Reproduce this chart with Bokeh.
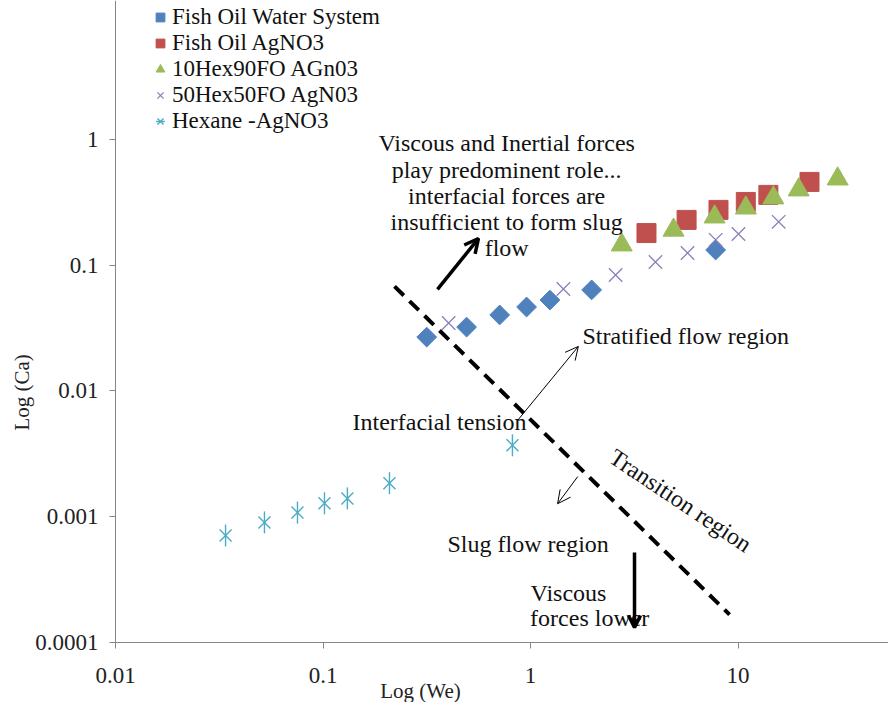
import math
from bokeh.plotting import figure
from bokeh.models import (Range1d, FixedTicker, CustomJSTickFormatter, Legend, LegendItem,
                          Label, Arrow, OpenHead)
from bokeh.core.properties import value
from bokeh.embed import file_html
from bokeh.resources import INLINE

# ---------------- data ----------------
fish_water_we = [0.316, 0.492, 0.71, 0.957, 1.24, 1.97, 7.8]
fish_water_ca = [0.0268, 0.0322, 0.0402, 0.0465, 0.0528, 0.0636, 0.132]

fish_ag_we = [3.62, 5.65, 8.05, 10.9, 14.0, 22.1]
fish_ag_ca = [0.180, 0.229, 0.275, 0.318, 0.362, 0.459]

hex10_we = [2.75, 4.89, 7.71, 10.9, 14.8, 19.6, 30.2]
hex10_ca = [0.145, 0.19, 0.242, 0.285, 0.343, 0.397, 0.485]

hex50_we = [0.403, 1.44, 2.57, 4.0, 5.71, 7.8, 10.05, 15.7]
hex50_ca = [0.0347, 0.0647, 0.0836, 0.106, 0.125, 0.159, 0.177, 0.221]

hexane_we = [0.0339, 0.0522, 0.0753, 0.1016, 0.131, 0.209, 0.818]
hexane_ca = [0.000711, 0.000902, 0.00108, 0.00128, 0.0014, 0.00185, 0.0037]

series_names = ["Fish Oil Water System", "Fish Oil AgNO3", "10Hex90FO AGn03",
                "50Hex50FO AgN03", "Hexane -AgNO3"]

x_ticks = [0.01, 0.1, 1, 10]
y_ticks = [0.0001, 0.001, 0.01, 0.1, 1]

# transition line end points
trans_we = [0.221, 9.10]
trans_ca = [0.0678, 0.000167]

FONT = "Liberation Serif"
X_MIN, X_MAX = 0.01, 53.1
Y_MIN, Y_MAX = 0.0001, 12.7

p = figure(width=888, height=702, x_axis_type="log", y_axis_type="log",
           x_range=Range1d(0.00279, X_MAX), y_range=Range1d(3.34e-5, Y_MAX),
           output_backend="svg", toolbar_location=None,
           min_border_left=0, min_border_right=0, min_border_top=0, min_border_bottom=0)
p.outline_line_color = None
p.xgrid.visible = False
p.ygrid.visible = False
p.background_fill_color = "white"
p.border_fill_color = "white"

xa = p.xaxis[0]
ya = p.yaxis[0]
xa.fixed_location = Y_MIN
ya.fixed_location = X_MIN
xa.bounds = (X_MIN, X_MAX)
ya.bounds = (Y_MIN, Y_MAX)
for ax, ticks in ((xa, x_ticks), (ya, y_ticks)):
    ax.ticker = FixedTicker(ticks=ticks, minor_ticks=[])
    ax.formatter = CustomJSTickFormatter(code="return tick.toString();")
    ax.axis_line_color = "#868686"
    ax.major_tick_line_color = "#868686"
    ax.major_tick_out = 6
    ax.major_tick_in = 0
    ax.minor_tick_out = 0
    ax.minor_tick_in = 0
    ax.major_label_text_font = FONT
    ax.major_label_text_font_size = "23px"
    ax.major_label_text_color = "#222222"
xa.major_label_standoff = 19
ya.major_label_standoff = 11

# transition dashed line
p.line(trans_we, trans_ca, line_color="black", line_width=4, line_dash="13 8")

# series
r1 = p.scatter(fish_water_we, fish_water_ca, marker="square", angle=math.pi / 4, size=14,
               fill_color="#4F81BD", line_color="#4F81BD")
r2 = p.scatter(fish_ag_we, fish_ag_ca, marker="square", size=19,
               fill_color="#C0504D", line_color="#C0504D")
r3 = p.scatter(hex10_we, hex10_ca, marker="triangle", size=21,
               fill_color="#9BBB59", line_color="#9BBB59")
r4 = p.scatter(hex50_we, hex50_ca, marker="x", size=19,
               line_color="#8C7FB8", line_width=1.3)
r5a = p.scatter(hexane_we, hexane_ca, marker="x", size=17,
                line_color="#4BACC6", line_width=1.4)
r5b = p.scatter(hexane_we, hexane_ca, marker="dash", angle=math.pi / 2, size=22,
                line_color="#4BACC6", line_width=1.4)

# annotation texts
block_lines = ["Viscous and Inertial forces", "play predominent role...",
               "interfacial forces are", "insufficient to form slug", "flow"]
block_y = [0.929, 0.568, 0.352, 0.219, 0.136]
p.text(x=[0.767] * 5, y=block_y, text=block_lines, text_align="center",
       text_baseline="middle", text_font=value(FONT), text_font_size="24px",
       text_color="#111111")

left_texts = ["Stratified flow region", "Interfacial tension", "Slug flow region",
              "Viscous", "forces lower"]
left_x = [1.78, 0.1387, 0.398, 1.0, 0.995]
left_y = [0.0276, 0.00562, 0.000612, 0.00025, 0.000158]
p.text(x=left_x, y=left_y, text=left_texts, text_align="left", text_baseline="middle",
       text_font=value(FONT), text_font_size="24px", text_color="#111111")

p.text(x=[5.28], y=[0.001346], text=["Transition region"], angle=-0.59,
       text_align="center", text_baseline="middle", text_font=value(FONT),
       text_font_size="24px", text_color="#111111")

# arrows
p.add_layout(Arrow(x_start=0.356, y_start=0.0641, x_end=0.561, y_end=0.163,
                   line_width=3.5, line_color="black",
                   end=OpenHead(size=14, line_width=3.5, line_color="black")))
p.add_layout(Arrow(x_start=0.865, y_start=0.00582, x_end=1.70, y_end=0.0226,
                   line_width=1, line_color="black",
                   end=OpenHead(size=13, line_width=1, line_color="black")))
p.add_layout(Arrow(x_start=1.69, y_start=0.00209, x_end=1.35, y_end=0.00127,
                   line_width=1, line_color="black",
                   end=OpenHead(size=13, line_width=1, line_color="black")))
p.add_layout(Arrow(x_start=3.17, y_start=0.00052, x_end=3.17, y_end=0.000132,
                   line_width=3.5, line_color="black",
                   end=OpenHead(size=12, line_width=3.5, line_color="black")))

# axis titles
p.add_layout(Label(x=0.295, y=4.15e-5, text="Log (We)",
                   text_align="center", text_baseline="middle", text_font=FONT,
                   text_font_size="21px", text_color="#222222"))
p.add_layout(Label(x=0.00356, y=0.00974, text="Log (Ca)",
                   angle=math.pi / 2, text_align="center", text_baseline="middle",
                   text_font=FONT, text_font_size="21px", text_color="#222222"))

# legend
items = [LegendItem(label=series_names[0], renderers=[r1]),
         LegendItem(label=series_names[1], renderers=[r2]),
         LegendItem(label=series_names[2], renderers=[r3]),
         LegendItem(label=series_names[3], renderers=[r4]),
         LegendItem(label=series_names[4], renderers=[r5a, r5b])]
legend = Legend(items=items, location=(149, 568), padding=0, margin=0, spacing=0,
                glyph_width=22, glyph_height=24, label_height=24, label_standoff=1,
                label_text_font=FONT, label_text_font_size="23px",
                label_text_color="#111111", background_fill_alpha=0,
                border_line_color=None)
p.add_layout(legend)

open("out.html", "w").write(file_html(p, INLINE))
